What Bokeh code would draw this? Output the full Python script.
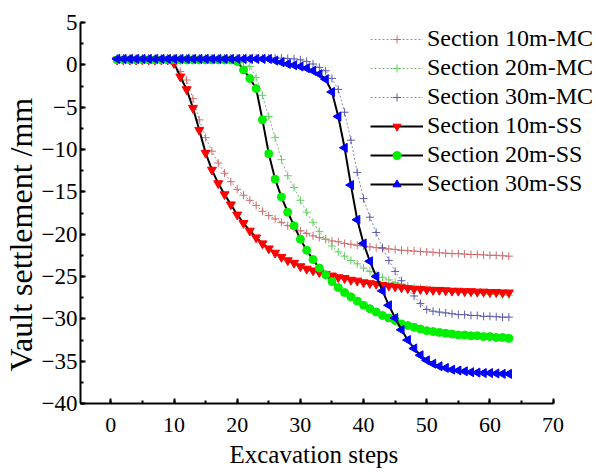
import math
from bokeh.plotting import figure
from bokeh.models import Legend, LegendItem, SingleIntervalTicker, ColumnDataSource, Title
from bokeh.embed import file_html
from bokeh.resources import INLINE

steps = list(range(1, 64))

ss_10 = [0.6, 0.6, 0.6, 0.6, 0.6, 0.6, 0.6, 0.6, 0.6, 0.2,
         -1.4, -2.9, -5.1, -7.7, -10.4, -12.4, -14.0, -15.3, -16.5, -17.7,
         -18.7, -19.6, -20.4, -21.1, -21.7, -22.2, -22.7, -23.1, -23.4, -23.8,
         -24.1, -24.3, -24.5, -24.7, -24.9, -25.1, -25.2, -25.4, -25.5, -25.7,
         -25.8, -25.9, -26.0, -26.1, -26.2, -26.3, -26.4, -26.45, -26.5, -26.55,
         -26.6, -26.6, -26.65, -26.7, -26.7, -26.75, -26.75, -26.8, -26.8, -26.85,
         -26.85, -26.9, -26.9]

mc_10 = [0.5, 0.5, 0.5, 0.5, 0.5, 0.5, 0.5, 0.5, 0.5, 0.1,
         -0.8, -1.8, -4.0, -6.5, -8.6, -10.2, -11.6, -12.8, -13.8, -14.7,
         -15.4, -16.0, -16.6, -17.3, -17.8, -18.2, -18.6, -19.0, -19.3, -19.6,
         -19.9, -20.2, -20.4, -20.6, -20.8, -20.9, -21.1, -21.2, -21.3, -21.4,
         -21.5, -21.6, -21.7, -21.75, -21.8, -21.9, -21.95, -22.0, -22.05, -22.1,
         -22.15, -22.2, -22.25, -22.3, -22.3, -22.35, -22.4, -22.4, -22.45, -22.5,
         -22.5, -22.55, -22.6]

ss_20 = [0.6, 0.6, 0.6, 0.6, 0.6, 0.6, 0.6, 0.6, 0.6, 0.6,
         0.6, 0.6, 0.6, 0.6, 0.6, 0.6, 0.6, 0.6, 0.6, 0.4,
         -0.6, -1.6, -2.8, -6.5, -10.5, -13.5, -15.6, -17.4, -19.0, -20.6,
         -21.9, -23.0, -24.0, -24.8, -25.6, -26.3, -26.9, -27.4, -27.9, -28.4,
         -28.8, -29.2, -29.6, -29.9, -30.2, -30.6, -30.8, -31.0, -31.2, -31.4,
         -31.5, -31.6, -31.7, -31.8, -31.9, -31.9, -32.0, -32.0, -32.1, -32.1,
         -32.2, -32.2, -32.3]

mc_20 = [0.5, 0.5, 0.5, 0.5, 0.5, 0.5, 0.5, 0.5, 0.5, 0.5,
         0.5, 0.5, 0.5, 0.5, 0.5, 0.5, 0.5, 0.5, 0.5, 0.5,
         0.3, -0.2, -1.5, -3.6, -6.1, -8.6, -11.2, -13.1, -14.5, -16.0,
         -17.4, -18.6, -19.7, -20.6, -21.4, -22.1, -22.6, -23.1, -23.5, -24.0,
         -24.4, -24.8, -25.1, -25.4, -25.7, -25.9, -26.1, -26.3, -26.4, -26.5,
         -26.6, -26.7, -26.75, -26.8, -26.85, -26.9, -26.95, -27.0, -27.05, -27.1,
         -27.1, -27.15, -27.2]

ss_30 = [0.7, 0.7, 0.7, 0.7, 0.7, 0.7, 0.7, 0.7, 0.7, 0.7,
         0.7, 0.7, 0.7, 0.7, 0.7, 0.7, 0.7, 0.7, 0.7, 0.7,
         0.7, 0.7, 0.7, 0.7, 0.7, 0.5, 0.3, 0.1, -0.05, -0.2,
         -0.4, -0.7, -1.1, -1.7, -3.2, -6.1, -9.8, -14.2, -18.3, -21.1,
         -23.2, -25.0, -26.7, -28.4, -29.9, -31.3, -32.5, -33.5, -34.3, -34.9,
         -35.3, -35.6, -35.8, -36.0, -36.1, -36.2, -36.3, -36.35, -36.4, -36.4,
         -36.45, -36.5, -36.5]

mc_30 = [0.8, 0.8, 0.8, 0.8, 0.8, 0.8, 0.8, 0.8, 0.8, 0.8,
         0.8, 0.8, 0.8, 0.8, 0.8, 0.8, 0.8, 0.8, 0.8, 0.8,
         0.8, 0.8, 0.8, 0.8, 0.8, 0.8, 0.8, 0.75, 0.7, 0.6,
         0.4, 0.1, -0.3, -0.7, -1.6, -2.9, -5.6, -8.9, -12.7, -15.8,
         -18.0, -19.8, -21.6, -23.1, -24.4, -25.5, -26.4, -27.3, -28.2, -28.9,
         -29.1, -29.2, -29.3, -29.4, -29.5, -29.5, -29.6, -29.6, -29.7, -29.7,
         -29.75, -29.8, -29.8]

labels_mc = ["Section 10m-MC", "Section 20m-MC", "Section 30m-MC"]
labels_ss = ["Section 10m-SS", "Section 20m-SS", "Section 30m-SS"]
x_title = "Excavation steps"
y_title = "Vault settlement /mm"

mc_colors = ["#d06a6a", "#5fd35f", "#5a5aae"]
mc_line_colors = ["#b08888", "#88b088", "#8888b0"]
ss_colors = ["#ff0000", "#00f000", "#0000ff"]
ss_markers = ["inverted_triangle", "circle", "triangle"]
ss_angles = [0.0, 0.0, math.pi / 2]
ss_sizes = [9, 8, 9]

FONT = "Liberation Serif"

p = figure(width=596, height=472, x_range=(-4.8, 76.87), y_range=(-40, 5),
           output_backend="svg", toolbar_location=None,
           min_border_left=78, min_border_right=0,
           min_border_top=22, min_border_bottom=68)
p.xgrid.visible = False
p.ygrid.visible = False
p.outline_line_color = None
p.background_fill_color = "white"

p.xaxis.ticker = SingleIntervalTicker(interval=10, num_minor_ticks=2)
p.yaxis.ticker = SingleIntervalTicker(interval=5, num_minor_ticks=2)
p.xaxis.bounds = (-4.8, 70)
for ax in (p.xaxis[0], p.yaxis[0]):
    ax.axis_line_width = 2
    ax.axis_line_color = "black"
    ax.major_tick_in = 5
    ax.major_tick_out = 0
    ax.minor_tick_in = 3
    ax.minor_tick_out = 0
    ax.major_tick_line_width = 2
    ax.minor_tick_line_width = 2
    ax.major_label_text_font = FONT
    ax.major_label_text_color = "black"
p.xaxis.major_label_text_font_size = "22px"
p.yaxis.major_label_text_font_size = "23px"
p.xaxis.major_label_standoff = 14
p.yaxis.major_label_standoff = 3

# axis titles as side-panel titles, shifted along their panels
xt = Title(text=x_title, align="left", offset=149, standoff=9,
           vertical_align="bottom", text_font=FONT, text_font_size="25px",
           text_font_style="normal", text_color="black")
yt = Title(text=y_title, align="left", offset=32, standoff=0,
           vertical_align="bottom", text_font=FONT, text_font_size="32px",
           text_font_style="normal", text_color="black")
p.add_layout(xt, "below")
p.add_layout(yt, "left")

items = []
mc_data = [mc_10, mc_20, mc_30]
for vals, lab, c, lc in zip(mc_data, labels_mc, mc_colors, mc_line_colors):
    src = ColumnDataSource(dict(x=steps, y=vals))
    lr = p.line("x", "y", source=src, line_color=lc, line_width=1, line_dash="2 2")
    sr = p.scatter("x", "y", source=src, marker="cross", size=8,
                   line_color=c, line_width=1)
    items.append(LegendItem(label=lab, renderers=[lr, sr]))

ss_data = [ss_10, ss_20, ss_30]
for vals, lab, c, m, a, s in zip(ss_data, labels_ss, ss_colors, ss_markers, ss_angles, ss_sizes):
    src = ColumnDataSource(dict(x=steps, y=vals))
    lr = p.line("x", "y", source=src, line_color="black", line_width=2)
    sr = p.scatter("x", "y", source=src, marker=m, size=s, angle=a,
                   angle_units="rad", fill_color=c, line_color=c)
    items.append(LegendItem(label=lab, renderers=[lr, sr]))

legend = Legend(items=items, location=(290, 206))
legend.background_fill_alpha = 0
legend.border_line_color = None
legend.label_text_font = FONT
legend.label_text_font_size = "24px"
legend.label_text_color = "black"
legend.glyph_width = 53
legend.glyph_height = 20
legend.label_height = 20
legend.label_standoff = 4
legend.spacing = 2
legend.padding = 0
legend.margin = 0
p.add_layout(legend)

with open("out.html", "w") as f:
    f.write(file_html(p, INLINE))
